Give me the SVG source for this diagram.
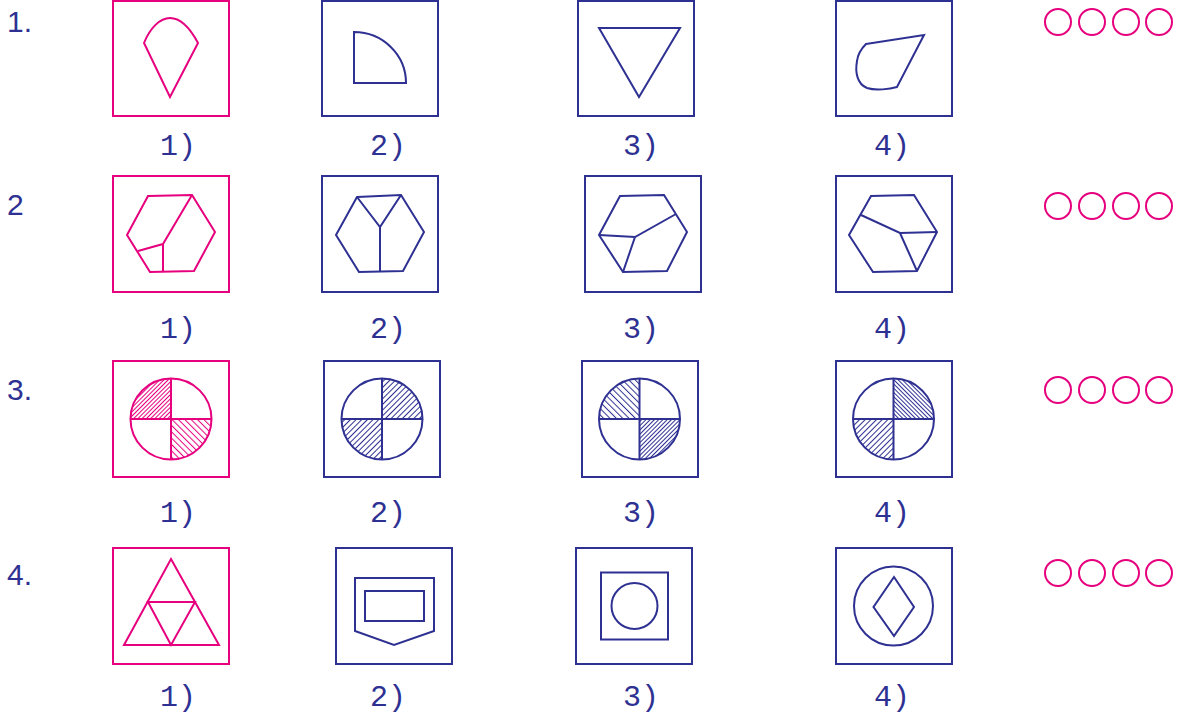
<svg xmlns="http://www.w3.org/2000/svg" width="1180" height="713" viewBox="0 0 1180 713">
<style>
.p{fill:none;stroke:#E6007E;stroke-width:2;stroke-linejoin:miter}
.b{fill:none;stroke:#2E3192;stroke-width:2;stroke-linejoin:miter}
.rl{font-family:"Liberation Sans",Arial,sans-serif;font-size:30px;fill:#2E3192}
.ol{font-family:"Liberation Mono","DejaVu Sans Mono",monospace;font-size:30px;fill:#2E3192;text-anchor:middle}
.c{fill:none;stroke:#E6007E;stroke-width:2}
</style>
<defs>
<pattern id="pS3" patternUnits="userSpaceOnUse" width="3" height="3" patternTransform="rotate(45)"><line x1="0.5" y1="0" x2="0.5" y2="3" stroke="#E6007E" stroke-width="1"/></pattern>
<pattern id="pB45" patternUnits="userSpaceOnUse" width="4.5" height="4.5" patternTransform="rotate(-45)"><line x1="0.5" y1="0" x2="0.5" y2="4.5" stroke="#E6007E" stroke-width="1"/></pattern>
<pattern id="bS4" patternUnits="userSpaceOnUse" width="4" height="4" patternTransform="rotate(45)"><line x1="0.5" y1="0" x2="0.5" y2="4" stroke="#2E3192" stroke-width="1"/></pattern>
<pattern id="bS3" patternUnits="userSpaceOnUse" width="3" height="3" patternTransform="rotate(45)"><line x1="0.5" y1="0" x2="0.5" y2="3" stroke="#2E3192" stroke-width="1"/></pattern>
<pattern id="bB45" patternUnits="userSpaceOnUse" width="4.5" height="4.5" patternTransform="rotate(-45)"><line x1="0.5" y1="0" x2="0.5" y2="4.5" stroke="#2E3192" stroke-width="1"/></pattern>
<pattern id="bB3" patternUnits="userSpaceOnUse" width="3" height="3" patternTransform="rotate(-45)"><line x1="0.5" y1="0" x2="0.5" y2="3" stroke="#2E3192" stroke-width="1"/></pattern>
</defs>
<rect width="1180" height="713" fill="#ffffff"/>

<!-- Row labels -->
<g id="row-labels">
<text class="rl" x="7" y="32">1.</text>
<text class="rl" x="7" y="215">2</text>
<text class="rl" x="7" y="400">3.</text>
<text class="rl" x="7" y="585">4.</text>
</g>

<!-- Row 1 -->
<g id="q1-opt1">
<rect class="p" x="113" y="1" width="116" height="115"/>
<path class="p" d="M144,43 C150,28 160,18 170,18 C180,18 190,28 198,43 L170,97 Z"/>
</g>
<g id="q1-opt2">
<rect class="b" x="322" y="1" width="116" height="115"/>
<path class="b" d="M354,83 L354,32 A52,51 0 0 1 406,83 Z"/>
</g>
<g id="q1-opt3">
<rect class="b" x="578" y="1" width="116" height="115"/>
<path class="b" d="M599,28 L680,28 L639,97 Z"/>
</g>
<g id="q1-opt4">
<rect class="b" x="836" y="1" width="116" height="115"/>
<path class="b" d="M866,44 L924,35 L897,87 C890,89 876,91 867,88 C857,84 855,72 857,61 C858,53 862,48 866,44 Z"/>
</g>
<g id="q1-labels">
<text class="ol" x="178" y="155">1)</text>
<text class="ol" x="388" y="155">2)</text>
<text class="ol" x="641" y="155">3)</text>
<text class="ol" x="892" y="155">4)</text>
</g>
<g id="q1-answers">
<circle class="c" cx="1058" cy="22" r="13"/>
<circle class="c" cx="1092" cy="22" r="13"/>
<circle class="c" cx="1126" cy="22" r="13"/>
<circle class="c" cx="1159" cy="22" r="13"/>
</g>

<!-- Row 2 -->
<g id="q2-opt1">
<rect class="p" x="113" y="176" width="116" height="116"/>
<path class="p" d="M148,196 L192,195 L215,232 L194,271 L150,272 L127,235 Z"/>
<path class="p" d="M192,195 L163,244 L163,272 M163,244 L138,251"/>
</g>
<g id="q2-opt2">
<rect class="b" x="322" y="176" width="116" height="116"/>
<path class="b" d="M357,197 L401,195 L424,232 L403,271 L359,272 L336,235 Z"/>
<path class="b" d="M357,197 L380,227 L401,195 M380,227 L380,272"/>
</g>
<g id="q2-opt3">
<rect class="b" x="585" y="176" width="116" height="116"/>
<path class="b" d="M620,196 L664,195 L687,232 L667,271 L623,272 L599,235 Z"/>
<path class="b" d="M599,235 L635,237 L676,214 M635,237 L623,272"/>
</g>
<g id="q2-opt4">
<rect class="b" x="836" y="176" width="116" height="116"/>
<path class="b" d="M871,196 L914,195 L937,232 L917,271 L873,272 L849,235 Z"/>
<path class="b" d="M861,215 L900,233 L937,232 M900,233 L917,271"/>
</g>
<g id="q2-labels">
<text class="ol" x="178" y="338">1)</text>
<text class="ol" x="388" y="338">2)</text>
<text class="ol" x="641" y="338">3)</text>
<text class="ol" x="892" y="338">4)</text>
</g>
<g id="q2-answers">
<circle class="c" cx="1058" cy="206" r="13"/>
<circle class="c" cx="1092" cy="206" r="13"/>
<circle class="c" cx="1126" cy="206" r="13"/>
<circle class="c" cx="1159" cy="206" r="13"/>
</g>

<!-- Row 3 -->
<g id="q3-opt1">
<rect class="p" x="113" y="361" width="116" height="116"/>
<path d="M171,419 L130.5,419 A40.5,40.5 0 0 1 171,378.5 Z" fill="url(#pS3)"/>
<path d="M171,419 L211.5,419 A40.5,40.5 0 0 1 171,459.5 Z" fill="url(#pB45)"/>
<circle class="p" cx="171" cy="419" r="40.5"/>
<path class="p" d="M130.5,419 L211.5,419 M171,378.5 L171,459.5"/>
</g>
<g id="q3-opt2">
<rect class="b" x="324" y="361" width="116" height="116"/>
<path d="M382,419 L382,378.5 A40.5,40.5 0 0 1 422.5,419 Z" fill="url(#bS4)"/>
<path d="M382,419 L382,459.5 A40.5,40.5 0 0 1 341.5,419 Z" fill="url(#bS4)"/>
<circle class="b" cx="382" cy="419" r="40.5"/>
<path class="b" d="M341.5,419 L422.5,419 M382,378.5 L382,459.5"/>
</g>
<g id="q3-opt3">
<rect class="b" x="582" y="361" width="116" height="116"/>
<path d="M639.5,419 L599,419 A40.5,40.5 0 0 1 639.5,378.5 Z" fill="url(#bB45)"/>
<path d="M639.5,419 L680,419 A40.5,40.5 0 0 1 639.5,459.5 Z" fill="url(#bS3)"/>
<circle class="b" cx="639.5" cy="419" r="40.5"/>
<path class="b" d="M599,419 L680,419 M639.5,378.5 L639.5,459.5"/>
</g>
<g id="q3-opt4">
<rect class="b" x="836" y="361" width="116" height="116"/>
<path d="M893.5,419 L893.5,378.5 A40.5,40.5 0 0 1 934,419 Z" fill="url(#bB3)"/>
<path d="M893.5,419 L893.5,459.5 A40.5,40.5 0 0 1 853,419 Z" fill="url(#bS4)"/>
<circle class="b" cx="893.5" cy="419" r="40.5"/>
<path class="b" d="M853,419 L934,419 M893.5,378.5 L893.5,459.5"/>
</g>
<g id="q3-labels">
<text class="ol" x="178" y="522">1)</text>
<text class="ol" x="388" y="522">2)</text>
<text class="ol" x="641" y="522">3)</text>
<text class="ol" x="892" y="522">4)</text>
</g>
<g id="q3-answers">
<circle class="c" cx="1058" cy="390" r="13"/>
<circle class="c" cx="1092" cy="390" r="13"/>
<circle class="c" cx="1126" cy="390" r="13"/>
<circle class="c" cx="1159" cy="390" r="13"/>
</g>

<!-- Row 4 -->
<g id="q4-opt1">
<rect class="p" x="113" y="548" width="116" height="116"/>
<path class="p" d="M171,559 L219,645 L124,645 Z"/>
<path class="p" d="M148,602 L195,602 L171,645 Z"/>
</g>
<g id="q4-opt2">
<rect class="b" x="336" y="548" width="116" height="116"/>
<path class="b" d="M355,578 L434,578 L434,631 L394,645 L355,631 Z"/>
<rect class="b" x="365" y="591" width="59" height="30"/>
</g>
<g id="q4-opt3">
<rect class="b" x="576" y="548" width="116" height="116"/>
<rect class="b" x="601" y="572.5" width="67" height="67"/>
<circle class="b" cx="634.5" cy="606" r="23"/>
</g>
<g id="q4-opt4">
<rect class="b" x="836" y="548" width="116" height="116"/>
<circle class="b" cx="893.5" cy="606" r="39.5"/>
<path class="b" d="M894,577 L914,607 L894,636 L873.5,607 Z"/>
</g>
<g id="q4-labels">
<text class="ol" x="178" y="706">1)</text>
<text class="ol" x="388" y="706">2)</text>
<text class="ol" x="641" y="706">3)</text>
<text class="ol" x="892" y="706">4)</text>
</g>
<g id="q4-answers">
<circle class="c" cx="1058" cy="573" r="13"/>
<circle class="c" cx="1092" cy="573" r="13"/>
<circle class="c" cx="1126" cy="573" r="13"/>
<circle class="c" cx="1159" cy="573" r="13"/>
</g>
</svg>
